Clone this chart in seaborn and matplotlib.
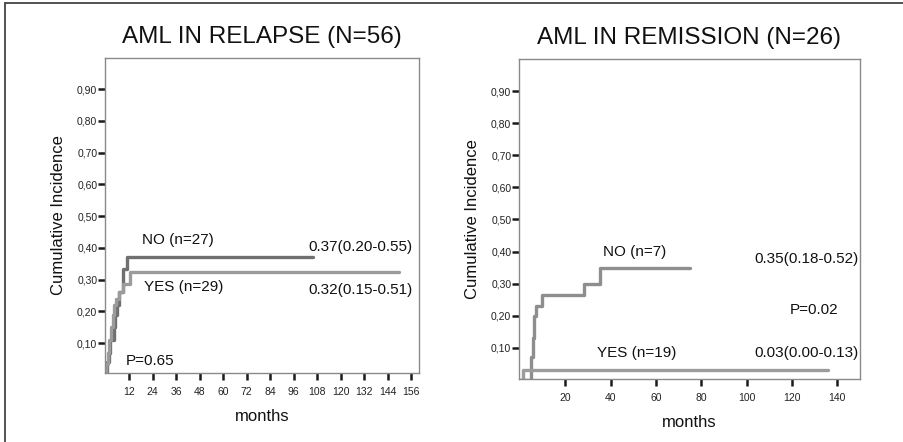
import numpy as np
import pandas as pd
import matplotlib
matplotlib.use("Agg")
import matplotlib.pyplot as plt
from matplotlib.lines import Line2D
import seaborn as sns

# ---------------- data ----------------
relapse_no_t = [0, 0.5, 1.5, 2.3, 4.2, 5.0, 6.0, 7.0, 8.8, 11.0, 106]
relapse_no_v = [0, 0.04, 0.07, 0.11, 0.15, 0.19, 0.22, 0.26, 0.335, 0.37, 0.37]
relapse_yes_t = [0, 0.3, 1.0, 1.8, 2.8, 3.6, 4.4, 5.2, 7.0, 8.8, 12.7, 150]
relapse_yes_v = [0, 0.035, 0.07, 0.11, 0.15, 0.19, 0.22, 0.24, 0.26, 0.285, 0.325, 0.325]

remission_no_t = [0, 5.1, 5.6, 6.2, 7.0, 9.6, 28.4, 35.3, 75]
remission_no_v = [0, 0.07, 0.13, 0.20, 0.23, 0.265, 0.30, 0.35, 0.35]
remission_yes_t = [0, 1.5, 136]
remission_yes_v = [0, 0.03, 0.03]

relapse_xticks = [12, 24, 36, 48, 60, 72, 84, 96, 108, 120, 132, 144, 156]
remission_xticks = [20, 40, 60, 80, 100, 120, 140]
yticks = [0.10, 0.20, 0.30, 0.40, 0.50, 0.60, 0.70, 0.80, 0.90]
ytick_labels = ["0,10", "0,20", "0,30", "0,40", "0,50", "0,60", "0,70", "0,80", "0,90"]

titles = ["AML IN RELAPSE (N=56)", "AML IN REMISSION (N=26)"]

# ---------------- style ----------------
sns.set_theme(style="white")
plt.rcParams["font.family"] = ["Liberation Sans", "DejaVu Sans"]

fig = plt.figure(figsize=(9.04, 4.42), dpi=100)

ax1 = fig.add_axes([105 / 904, 1 - 373 / 442, 314 / 904, 315 / 442])
ax2 = fig.add_axes([519 / 904, 1 - 379 / 442, 341 / 904, 320 / 442])

def draw(parts, ax, palette):
    frames = []
    for name, t, v in parts:
        frames.append(pd.DataFrame({"months": t, "ci": v, "group": name}))
    df = pd.concat(frames, ignore_index=True)
    sns.lineplot(data=df, x="months", y="ci", hue="group", palette=palette,
                 estimator=None, sort=False, drawstyle="steps-post",
                 linewidth=2.4, ax=ax, legend=False)

draw([("NO", relapse_no_t, relapse_no_v), ("YES", relapse_yes_t, relapse_yes_v)],
     ax1, {"NO": "#707070", "YES": "#9b9b9b"})
draw([("NO", remission_no_t, remission_no_v), ("YES", remission_yes_t, remission_yes_v)],
     ax2, {"NO": "#8e8e8e", "YES": "#9c9c9c"})

ax1.set_xlim(-0.3, 160)
ax1.set_ylim(0.006, 0.998)
ax2.set_xlim(-0.4, 150)
ax2.set_ylim(0.003, 1.0)

for ax, xt, title in [(ax1, relapse_xticks, titles[0]), (ax2, remission_xticks, titles[1])]:
    ax.set_xticks(xt)
    ax.set_xticklabels([str(x) for x in xt], fontsize=7.5, color="#222222")
    ax.set_yticks(yticks)
    ax.set_yticklabels(ytick_labels, fontsize=7.5, color="#222222")
    ax.tick_params(axis="both", direction="out", length=5, width=1.8,
                   color="#1a1a1a", bottom=True, left=True)
    ax.tick_params(axis="y", pad=0.5)
    ax.tick_params(axis="x", pad=5)
    for s in ax.spines.values():
        s.set_visible(True)
        s.set_color("#8a8a8a")
        s.set_linewidth(1.0)
    ax.set_xlabel("months", fontsize=12, color="#111111", labelpad=9)
    ax.set_ylabel("Cumulative Incidence", fontsize=12, color="#111111", labelpad=8)
    ax.set_title(title, fontsize=17.5, color="#111111", pad=11)

# annotations, left panel
kw = dict(fontsize=11, color="#111111", va="center", ha="left")
ax1.text(18.5, 0.425, "NO (n=27)", **kw)
ax1.text(103.6, 0.404, "0.37(0.20-0.55)", **kw)
ax1.text(19.7, 0.276, "YES (n=29)", **kw)
ax1.text(103.6, 0.268, "0.32(0.15-0.51)", **kw)
ax1.text(10.5, 0.045, "P=0.65", **kw)

# annotations, right panel
ax2.text(36.8, 0.40, "NO (n=7)", **kw)
ax2.text(103.2, 0.376, "0.35(0.18-0.52)", **kw)
ax2.text(119, 0.218, "P=0.02", **kw)
ax2.text(33.8, 0.085, "YES (n=19)", **kw)
ax2.text(103.2, 0.085, "0.03(0.00-0.13)", **kw)

# outer frame (top and left edges)
fig.add_artist(Line2D([5 / 904, 1.0], [1 - 3 / 442, 1 - 3 / 442],
                      transform=fig.transFigure, color="#444444", linewidth=1.3))
fig.add_artist(Line2D([5 / 904, 5 / 904], [0.0, 1 - 3 / 442],
                      transform=fig.transFigure, color="#444444", linewidth=1.3))

fig.savefig("out.png", dpi=100)
